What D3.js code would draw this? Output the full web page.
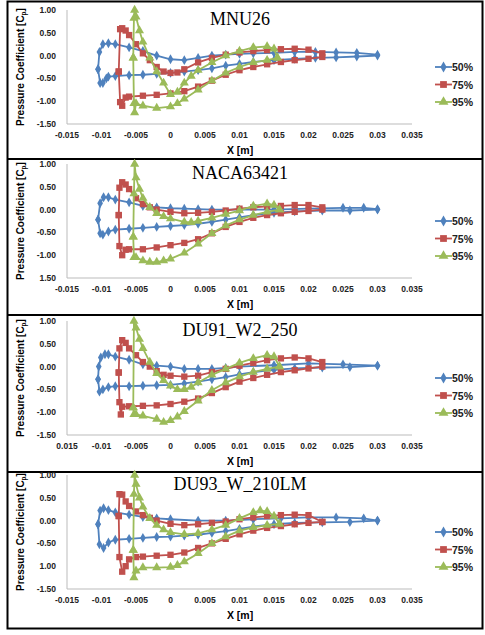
<!DOCTYPE html>
<html><head><meta charset="utf-8">
<script src="https://cdn.jsdelivr.net/npm/d3@7"></script>
<style>body{margin:0;background:#fff}</style>
</head><body>
<svg id="c" width="485" height="635"></svg>
<script>
// airfoil names, one per panel
var titles = ["MNU26", "NACA63421", "DU91_W2_250", "DU93_W_210LM"];
var seriesNames = ["50%", "75%", "95%"];
var colors = ["#4F81BD", "#C0504D", "#9BBB59"];
var xTicks = [-0.015, -0.01, -0.005, 0, 0.005, 0.01, 0.015, 0.02, 0.025, 0.03, 0.035];
var yTicks = [1, 0.5, 0, -0.5, -1, -1.5];
// tick labels as printed (some minus signs are missing in the source)
var yLabels = [
  ["1.00","0.50","0.00","-0.50","-1.00","-1.50"],
  ["1.00","0.50","0.00","-0.50","-1.00","1.50"],
  ["1.00","0.50","0.00","-0.50","-1.00","-1.50"],
  ["1.00","0.50","0.00","-0.50","1.00","-1.50"]];
var xLabels = [
  ["-0.015","-0.01","-0.005","0","0.005","0.01","0.015","0.02","0.025","0.03","0.035"],
  ["-0.015","-0.01","-0.005","0","0.005","0.01","0.015","0.02","0.025","0.03","0.035"],
  ["0.015","-0.01","-0.005","0","0.005","0.01","0.015","0.02","0.025","0.03","0.035"],
  ["-0.015","-0.01","-0.005","0","0.005","0.01","0.015","0.02","0.025","0.03","0.035"]];

// [x, Cp] points, each series = upper surface then lower surface (both from leading edge)
var mnu26 = [
  [[[-0.0105,-0.3],[-0.0103,0.08],[-0.0098,0.25],[-0.009,0.27],[-0.008,0.25],[-0.006,0.18],[-0.004,0.1],[-0.002,0.0],[0,-0.08],[0.002,-0.1],[0.004,-0.05],[0.006,0.0],[0.008,0.02],[0.01,0.04],[0.012,0.05],[0.015,0.06],[0.018,0.08],[0.021,0.08],[0.024,0.07],[0.027,0.06],[0.03,0.02]],
   [[-0.0105,-0.3],[-0.0102,-0.6],[-0.0098,-0.6],[-0.0093,-0.5],[-0.009,-0.46],[-0.008,-0.45],[-0.006,-0.43],[-0.004,-0.42],[-0.002,-0.4],[0,-0.38],[0.002,-0.35],[0.004,-0.32],[0.006,-0.28],[0.008,-0.22],[0.01,-0.18],[0.012,-0.14],[0.015,-0.1],[0.018,-0.07],[0.021,-0.05],[0.024,-0.04],[0.027,-0.02],[0.03,0.0]]],
  [[[-0.0075,-0.35],[-0.0073,0.58],[-0.007,0.6],[-0.0065,0.55],[-0.006,0.45],[-0.005,0.25],[-0.004,0.05],[-0.003,-0.1],[-0.002,-0.25],[-0.001,-0.35],[0,-0.38],[0.001,-0.37],[0.002,-0.3],[0.004,-0.15],[0.006,-0.05],[0.008,0.02],[0.01,0.07],[0.012,0.1],[0.014,0.12],[0.016,0.14],[0.018,0.15],[0.02,0.13],[0.022,0.05]],
   [[-0.0075,-0.35],[-0.0073,-1.02],[-0.007,-1.1],[-0.0065,-0.92],[-0.006,-0.9],[-0.004,-0.88],[-0.002,-0.86],[0,-0.83],[0.002,-0.78],[0.004,-0.68],[0.006,-0.55],[0.008,-0.42],[0.01,-0.32],[0.012,-0.25],[0.014,-0.19],[0.016,-0.14],[0.018,-0.1],[0.02,-0.07],[0.022,-0.03]]],
  [[[-0.0054,-0.05],[-0.0053,0.82],[-0.0052,1.0],[-0.005,0.85],[-0.0045,0.55],[-0.004,0.3],[-0.003,-0.05],[-0.002,-0.35],[-0.001,-0.6],[0,-0.85],[0.001,-0.8],[0.002,-0.6],[0.003,-0.45],[0.004,-0.32],[0.006,-0.15],[0.008,0.0],[0.01,0.1],[0.012,0.18],[0.014,0.2],[0.015,0.15],[0.0155,-0.05]],
   [[-0.0054,-0.05],[-0.0053,-1.05],[-0.0052,-1.25],[-0.005,-1.05],[-0.004,-1.1],[-0.002,-1.15],[0,-1.12],[0.001,-1.05],[0.002,-0.95],[0.004,-0.75],[0.006,-0.55],[0.008,-0.38],[0.01,-0.25],[0.012,-0.15],[0.014,-0.1],[0.0155,-0.05]]]];
var naca63421 = [
  [[[-0.0105,-0.22],[-0.0102,0.14],[-0.0097,0.27],[-0.009,0.27],[-0.008,0.22],[-0.006,0.16],[-0.004,0.08],[-0.002,0.05],[0,0.03],[0.002,0.02],[0.004,0.01],[0.006,0.0],[0.01,0.0],[0.015,0.0],[0.02,0.02],[0.025,0.04],[0.028,0.04],[0.03,0.01]],
   [[-0.0105,-0.22],[-0.0102,-0.52],[-0.0098,-0.55],[-0.009,-0.48],[-0.008,-0.44],[-0.006,-0.42],[-0.004,-0.4],[-0.002,-0.38],[0,-0.36],[0.002,-0.34],[0.004,-0.31],[0.006,-0.27],[0.008,-0.22],[0.01,-0.17],[0.012,-0.12],[0.015,-0.07],[0.018,-0.04],[0.022,-0.02],[0.026,-0.02],[0.03,0.0]]],
  [[[-0.0075,-0.12],[-0.0074,0.48],[-0.007,0.6],[-0.0065,0.55],[-0.006,0.45],[-0.005,0.25],[-0.004,0.12],[-0.003,0.05],[-0.002,0.0],[0,-0.05],[0.002,-0.08],[0.004,-0.07],[0.006,-0.05],[0.008,-0.02],[0.01,0.02],[0.012,0.05],[0.014,0.07],[0.016,0.08],[0.018,0.1],[0.02,0.1],[0.022,0.05]],
   [[-0.0075,-0.12],[-0.0074,-0.8],[-0.007,-1.0],[-0.0065,-0.88],[-0.006,-0.87],[-0.004,-0.87],[-0.002,-0.83],[0,-0.78],[0.002,-0.73],[0.004,-0.65],[0.006,-0.52],[0.008,-0.38],[0.01,-0.27],[0.012,-0.18],[0.014,-0.12],[0.016,-0.08],[0.018,-0.05],[0.02,-0.03],[0.022,0.0]]],
  [[[-0.0054,-0.6],[-0.0053,0.35],[-0.0052,1.0],[-0.005,0.7],[-0.0045,0.45],[-0.004,0.25],[-0.003,0.05],[-0.002,-0.08],[-0.001,-0.15],[0,-0.2],[0.002,-0.27],[0.003,-0.28],[0.004,-0.25],[0.006,-0.18],[0.008,-0.1],[0.01,-0.02],[0.012,0.08],[0.014,0.13],[0.015,0.1],[0.0158,0.0]],
   [[-0.0054,-0.6],[-0.0053,-1.05],[-0.005,-1.05],[-0.004,-1.12],[-0.003,-1.15],[-0.002,-1.15],[-0.001,-1.12],[0,-1.08],[0.002,-0.95],[0.004,-0.75],[0.006,-0.52],[0.008,-0.35],[0.01,-0.22],[0.012,-0.12],[0.014,-0.05],[0.0158,0.0]]]];
var du91 = [
  [[[-0.0105,-0.28],[-0.0104,0.0],[-0.0101,0.2],[-0.0095,0.27],[-0.009,0.27],[-0.008,0.22],[-0.006,0.15],[-0.004,0.05],[-0.002,0.02],[0,0.0],[0.002,-0.05],[0.004,-0.05],[0.006,-0.05],[0.008,-0.03],[0.01,0.0],[0.015,0.03],[0.02,0.07],[0.025,0.05],[0.03,0.02]],
   [[-0.0105,-0.28],[-0.0103,-0.55],[-0.0098,-0.5],[-0.009,-0.45],[-0.008,-0.43],[-0.006,-0.43],[-0.004,-0.42],[-0.002,-0.41],[0,-0.4],[0.002,-0.37],[0.004,-0.33],[0.006,-0.28],[0.008,-0.23],[0.01,-0.17],[0.012,-0.12],[0.015,-0.07],[0.018,-0.04],[0.022,-0.02],[0.026,-0.01],[0.03,0.02]]],
  [[[-0.0075,-0.13],[-0.0074,0.4],[-0.007,0.58],[-0.0065,0.52],[-0.006,0.4],[-0.005,0.25],[-0.004,0.1],[-0.003,0.0],[-0.002,-0.1],[-0.001,-0.18],[0,-0.2],[0.002,-0.22],[0.004,-0.2],[0.006,-0.12],[0.008,-0.05],[0.01,0.02],[0.012,0.08],[0.014,0.14],[0.016,0.18],[0.018,0.2],[0.02,0.18],[0.022,0.1]],
   [[-0.0075,-0.13],[-0.0074,-0.78],[-0.0072,-1.05],[-0.007,-0.88],[-0.006,-0.87],[-0.004,-0.86],[-0.002,-0.85],[0,-0.82],[0.002,-0.77],[0.004,-0.7],[0.006,-0.58],[0.008,-0.45],[0.01,-0.33],[0.012,-0.25],[0.014,-0.18],[0.016,-0.12],[0.018,-0.08],[0.02,-0.04],[0.022,0.0]]],
  [[[-0.0054,-0.9],[-0.0053,1.0],[-0.005,0.85],[-0.0045,0.6],[-0.004,0.4],[-0.003,0.1],[-0.002,-0.15],[-0.001,-0.3],[0,-0.42],[0.001,-0.5],[0.002,-0.5],[0.003,-0.45],[0.004,-0.35],[0.006,-0.18],[0.008,-0.05],[0.01,0.08],[0.012,0.18],[0.014,0.25],[0.015,0.22],[0.0158,0.0]],
   [[-0.0054,-0.9],[-0.0053,-1.05],[-0.005,-1.05],[-0.004,-1.08],[-0.002,-1.15],[-0.001,-1.22],[0,-1.18],[0.001,-1.1],[0.002,-0.98],[0.004,-0.75],[0.006,-0.52],[0.008,-0.35],[0.01,-0.22],[0.012,-0.12],[0.014,-0.05],[0.0158,0.0]]]];
var du93 = [
  [[[-0.0105,-0.08],[-0.0102,0.22],[-0.0097,0.27],[-0.009,0.23],[-0.008,0.18],[-0.006,0.13],[-0.004,0.08],[-0.002,0.05],[0,0.03],[0.004,0.0],[0.008,0.0],[0.012,0.03],[0.016,0.05],[0.02,0.07],[0.024,0.07],[0.028,0.05],[0.03,0.0]],
   [[-0.0105,-0.08],[-0.0103,-0.52],[-0.0097,-0.6],[-0.009,-0.48],[-0.008,-0.42],[-0.006,-0.4],[-0.004,-0.38],[-0.002,-0.36],[0,-0.35],[0.002,-0.33],[0.004,-0.31],[0.006,-0.27],[0.008,-0.23],[0.01,-0.18],[0.012,-0.13],[0.015,-0.08],[0.018,-0.05],[0.022,-0.04],[0.026,-0.03],[0.03,0.0]]],
  [[[-0.0075,0.1],[-0.0074,0.58],[-0.007,0.57],[-0.0065,0.42],[-0.006,0.32],[-0.005,0.2],[-0.004,0.12],[-0.003,0.06],[-0.002,0.0],[0,-0.07],[0.002,-0.1],[0.004,-0.08],[0.006,-0.05],[0.008,-0.02],[0.01,0.03],[0.012,0.07],[0.014,0.1],[0.016,0.12],[0.018,0.13],[0.02,0.12],[0.022,-0.03]],
   [[-0.0075,0.1],[-0.0074,-0.8],[-0.007,-1.12],[-0.0065,-1.0],[-0.006,-0.85],[-0.005,-0.8],[-0.004,-0.79],[-0.002,-0.77],[0,-0.75],[0.002,-0.7],[0.004,-0.6],[0.006,-0.5],[0.008,-0.4],[0.01,-0.3],[0.012,-0.22],[0.014,-0.16],[0.016,-0.12],[0.018,-0.08],[0.02,-0.05],[0.022,-0.03]]],
  [[[-0.0054,-0.65],[-0.0053,0.58],[-0.0052,1.0],[-0.005,0.8],[-0.0045,0.5],[-0.004,0.3],[-0.003,0.05],[-0.002,-0.1],[-0.001,-0.2],[0,-0.26],[0.002,-0.3],[0.004,-0.28],[0.006,-0.2],[0.008,-0.1],[0.01,0.05],[0.012,0.18],[0.013,0.22],[0.014,0.2],[0.015,0.1],[0.0158,-0.07]],
   [[-0.0054,-0.65],[-0.0053,-1.25],[-0.005,-1.1],[-0.004,-1.03],[-0.002,-1.03],[0,-1.02],[0.001,-0.98],[0.002,-0.9],[0.004,-0.72],[0.006,-0.5],[0.008,-0.35],[0.01,-0.22],[0.012,-0.15],[0.014,-0.1],[0.0158,-0.07]]]];
var panels = [mnu26, naca63421, du91, du93];

var svg = d3.select("#c");
var plotTops = [10, 164, 321, 475], plotH = 114;
var dividers = [159, 315, 472];
var symbols = [d3.symbolDiamond, d3.symbolSquare, d3.symbolTriangle];
var symSize = [28, 40, 36];

svg.append("rect").attr("x", 7.5).attr("y", 1.5).attr("width", 475).attr("height", 627)
  .attr("fill", "none").attr("stroke", "#000").attr("stroke-width", 2);
dividers.forEach(function(y) {
  svg.append("line").attr("x1", 7).attr("x2", 483).attr("y1", y).attr("y2", y)
    .attr("stroke", "#000").attr("stroke-width", 2);
});

var x = d3.scaleLinear().domain([-0.015, 0.035]).range([67, 412]);

panels.forEach(function(data, p) {
  var top = plotTops[p];
  var y = d3.scaleLinear().domain([-1.5, 1]).range([top + plotH, top]);
  var g = svg.append("g");

  g.append("line").attr("x1", 67).attr("x2", 67).attr("y1", top).attr("y2", top + plotH).attr("stroke", "#bbb");
  g.append("line").attr("x1", 67).attr("x2", 412).attr("y1", top + plotH).attr("y2", top + plotH).attr("stroke", "#bbb");

  g.selectAll(".yt").data(yTicks).enter().append("text")
    .attr("x", 56).attr("y", function(d) { return y(d) + 3; })
    .attr("text-anchor", "end").attr("font-family", "Liberation Sans, Arial").attr("font-weight", "bold")
    .attr("font-size", 8.5).attr("fill", "#222").text(function(d, i) { return yLabels[p][i]; });
  g.selectAll(".xt").data(xTicks).enter().append("text")
    .attr("x", function(d) { return x(d); }).attr("y", top + plotH + 14)
    .attr("text-anchor", "middle").attr("font-family", "Liberation Sans, Arial").attr("font-weight", "bold")
    .attr("font-size", 8.5).attr("fill", "#222").text(function(d, i) { return xLabels[p][i]; });

  g.append("text").attr("x", 240).attr("y", top + plotH + 30).attr("text-anchor", "middle")
    .attr("font-family", "Liberation Sans, Arial").attr("font-weight", "bold").attr("font-size", 10.5)
    .text("X [m]");
  var yl = g.append("text").attr("transform", "translate(24," + (top + plotH / 2) + ") rotate(-90)")
    .attr("text-anchor", "middle").attr("font-family", "Liberation Sans, Arial").attr("font-weight", "bold")
    .attr("font-size", 10);
  yl.append("tspan").text("Pressure Coefficient [C");
  yl.append("tspan").attr("font-size", 6.5).attr("dy", 2).text("p");
  yl.append("tspan").attr("dy", -2).text("]");

  g.append("text").attr("x", 240).attr("y", top + 15).attr("text-anchor", "middle")
    .attr("font-family", "Liberation Serif, Times New Roman").attr("font-size", 18).text(titles[p]);

  var line = d3.line().x(function(d) { return x(d[0]); }).y(function(d) { return y(d[1]); });
  data.forEach(function(series, s) {
    series.forEach(function(surf) {
      g.append("path").attr("d", line(surf)).attr("fill", "none")
        .attr("stroke", colors[s]).attr("stroke-width", 1.8);
      g.selectAll(null).data(surf).enter().append("path")
        .attr("d", d3.symbol().type(symbols[s]).size(symSize[s]))
        .attr("transform", function(d) { return "translate(" + x(d[0]) + "," + y(d[1]) + ")"; })
        .attr("fill", colors[s]);
    });
  });

  seriesNames.forEach(function(name, s) {
    var ly = top + 57 + s * 17.5;
    g.append("line").attr("x1", 435).attr("x2", 452).attr("y1", ly).attr("y2", ly)
      .attr("stroke", colors[s]).attr("stroke-width", 1.8);
    g.append("path").attr("d", d3.symbol().type(symbols[s]).size(symSize[s] + 6)())
      .attr("transform", "translate(443.5," + ly + ")").attr("fill", colors[s]);
    g.append("text").attr("x", 452).attr("y", ly + 4).attr("font-family", "Liberation Sans, Arial")
      .attr("font-weight", "bold").attr("font-size", 10.5).attr("fill", "#222").text(name);
  });
});
</script>
</body></html>
